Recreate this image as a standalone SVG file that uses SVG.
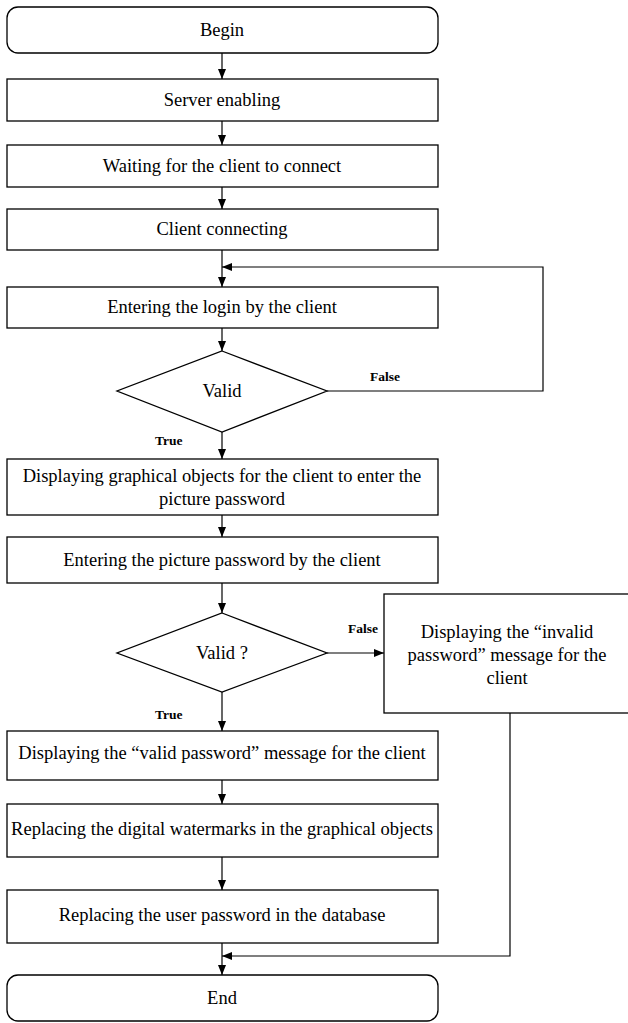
<svg xmlns="http://www.w3.org/2000/svg" width="628" height="1023" viewBox="0 0 628 1023">
<defs>
<marker id="ah" markerWidth="10" markerHeight="10" refX="10" refY="5" orient="auto" markerUnits="userSpaceOnUse">
<path d="M0,1 L10,5 L0,9 Z" fill="#000"/>
</marker>
<style>
.b{fill:#fff;stroke:#000;stroke-width:1.3}
.t{font-size:18.5px;fill:#000;text-anchor:middle}
.l{font-size:13.5px;font-weight:bold;fill:#000}
.c{fill:none;stroke:#000;stroke-width:1.2}
</style>
</defs>
<rect width="628" height="1023" fill="#fff"/>
<g font-family="'Liberation Serif', 'Times New Roman', Times, serif">
<g id="connectors">
<path class="c" d="M222,53 V79" marker-end="url(#ah)"/>
<path class="c" d="M222,121 V145" marker-end="url(#ah)"/>
<path class="c" d="M222,187 V209" marker-end="url(#ah)"/>
<path class="c" d="M222,250 V287" marker-end="url(#ah)"/>
<path class="c" d="M327,391 H543 V267 H222" marker-end="url(#ah)"/>
<path class="c" d="M222,328 V351" marker-end="url(#ah)"/>
<path class="c" d="M222,432 V459" marker-end="url(#ah)"/>
<path class="c" d="M222,515 V537" marker-end="url(#ah)"/>
<path class="c" d="M222,583 V613" marker-end="url(#ah)"/>
<path class="c" d="M327,653 H384" marker-end="url(#ah)"/>
<path class="c" d="M222,692 V731" marker-end="url(#ah)"/>
<path class="c" d="M222,780 V804" marker-end="url(#ah)"/>
<path class="c" d="M222,857 V890" marker-end="url(#ah)"/>
<path class="c" d="M510,713 V956 H222" marker-end="url(#ah)"/>
<path class="c" d="M222,943 V975" marker-end="url(#ah)"/>
<text class="l" x="370" y="381">False</text>
<text class="l" x="155" y="445">True</text>
<text class="l" x="348" y="633">False</text>
<text class="l" x="155" y="719">True</text>
</g>
<g id="begin"><rect class="b" x="7" y="7" width="431" height="46" rx="11"/><text class="t" x="222" y="36">Begin</text></g>
<g id="server"><rect class="b" x="7" y="79" width="431" height="42"/><text class="t" x="222" y="106">Server enabling</text></g>
<g id="waiting"><rect class="b" x="7" y="145" width="431" height="42"/><text class="t" x="222" y="172">Waiting for the client to connect</text></g>
<g id="connecting"><rect class="b" x="7" y="209" width="431" height="41"/><text class="t" x="222" y="235">Client connecting</text></g>
<g id="login"><rect class="b" x="7" y="287" width="431" height="41"/><text class="t" x="222" y="313">Entering the login by the client</text></g>
<g id="valid1"><path class="b" d="M222,351 L327,391 L222,432 L117,391 Z"/><text class="t" x="222" y="397">Valid</text></g>
<g id="display"><rect class="b" x="7" y="459" width="431" height="56"/><text class="t" x="222" y="482">Displaying graphical objects for the client to enter the</text><text class="t" x="222" y="505">picture password</text></g>
<g id="picture"><rect class="b" x="7" y="537" width="431" height="46"/><text class="t" x="222" y="566">Entering the picture password by the client</text></g>
<g id="valid2"><path class="b" d="M222,613 L327,653 L222,692 L117,653 Z"/><text class="t" x="222" y="659">Valid ?</text></g>
<g id="invalid"><rect class="b" x="384" y="594" width="250" height="119"/><text class="t" x="507" y="638">Displaying the “invalid</text><text class="t" x="507" y="661">password” message for the</text><text class="t" x="507" y="684">client</text></g>
<g id="validmsg"><rect class="b" x="7" y="731" width="431" height="49"/><text class="t" x="222" y="759">Displaying the “valid password” message for the client</text></g>
<g id="watermark"><rect class="b" x="7" y="804" width="431" height="53"/><text class="t" x="222" y="835">Replacing the digital watermarks in the graphical objects</text></g>
<g id="userpw"><rect class="b" x="7" y="890" width="431" height="53"/><text class="t" x="222" y="921">Replacing the user password in the database</text></g>
<g id="end"><rect class="b" x="7" y="975" width="431" height="46" rx="11"/><text class="t" x="222" y="1004">End</text></g>
</g>
</svg>
